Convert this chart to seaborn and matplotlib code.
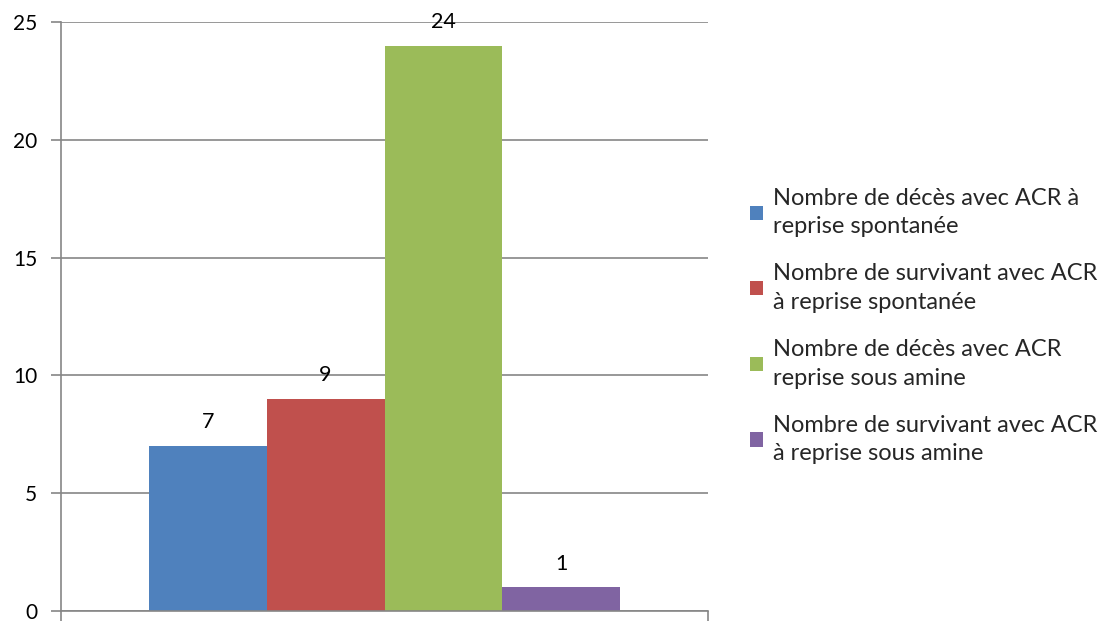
import pandas as pd
import matplotlib.pyplot as plt
import seaborn as sns

categories = ["Total"]
series = [
    "Nombre de décès avec ACR à\nreprise spontanée",
    "Nombre de survivant avec ACR\nà reprise spontanée",
    "Nombre de décès avec ACR\nreprise sous amine",
    "Nombre de survivant avec ACR\nà reprise sous amine",
]
values = [7, 9, 24, 1]
colors = ["#4F81BD", "#C0504D", "#9BBB59", "#8064A2"]

df = pd.DataFrame({"cat": categories * len(series), "serie": series, "value": values})

sns.set_theme(style="white")
plt.rcParams["font.family"] = ["Lato", "DejaVu Sans"]

fig = plt.figure(figsize=(11.16, 6.21), dpi=100)
ax = fig.add_axes([61 / 1116, 10 / 621, 647 / 1116, 589 / 621])

sns.barplot(data=df, x="cat", y="value", hue="serie", palette=colors,
            width=0.728, dodge=True, saturation=1, linewidth=0, ax=ax, legend=True)

for cont in ax.containers:
    ax.bar_label(cont, padding=10, fontsize=15.5, color="black")

ax.set_xlim(-0.5, 0.5)
ax.set_ylim(0, 25)
ax.set_yticks([0, 5, 10, 15, 20, 25])
ax.yaxis.grid(True, color="#868686", linewidth=1.2)
ax.set_axisbelow(True)
ax.set_xticks([-0.5, 0.5])
ax.set_xticklabels([])
ax.tick_params(axis="x", length=7, width=1.2, color="#868686", bottom=True, direction="out")
ax.tick_params(axis="y", length=7, width=1.2, color="#868686", left=True, direction="out",
               labelsize=15, pad=10, labelcolor="black")
for side in ["top", "right"]:
    ax.spines[side].set_visible(False)
for side in ["left", "bottom"]:
    ax.spines[side].set_color("#868686")
    ax.spines[side].set_linewidth(1.2)
ax.set_xlabel("")
ax.set_ylabel("")

handles, labels = ax.get_legend_handles_labels()
leg = ax.legend(handles, labels, loc="center left", bbox_to_anchor=(750 / 1116, 0.475),
                bbox_transform=fig.transFigure, frameon=False, fontsize=17,
                handlelength=0.55, handleheight=0.55, handletextpad=0.42,
                labelspacing=1.1, borderpad=0, borderaxespad=0)
for t in leg.get_texts():
    t.set_linespacing(1.45)

fig.savefig("out.png", dpi=100)
